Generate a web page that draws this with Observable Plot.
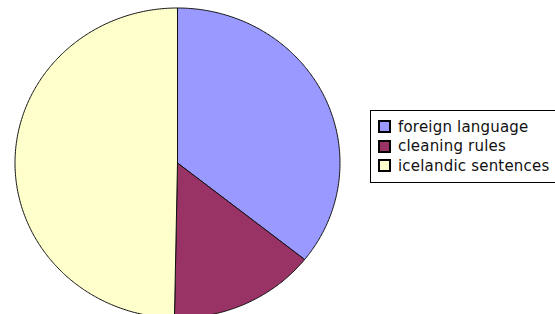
<!DOCTYPE html>
<html><head><meta charset="utf-8">
<script src="https://cdn.jsdelivr.net/npm/d3@7"></script>
<script src="https://cdn.jsdelivr.net/npm/@observablehq/plot@0.6"></script>
<style>
html,body{margin:0;padding:0;background:#fff;overflow:hidden;width:555px;height:314px;}
#wrap{position:relative;width:555px;height:314px;}
#legend{position:absolute;left:370px;top:110px;width:200px;height:73px;border:1px solid #000;background:#fff;
 font-family:"DejaVu Sans",sans-serif;font-size:15px;letter-spacing:0.2px;color:#111;box-sizing:border-box;padding-top:6px;}
.row{display:flex;align-items:center;height:19.5px;padding-left:7px;}
.sw{width:9px;height:9px;border:2px solid #000;margin-right:7px;flex:none;}
</style></head>
<body><div id="wrap"></div>
<script>
const categories = ["foreign language", "cleaning rules", "icelandic sentences"];
const values = [35.7, 14.6, 49.7];
const colors = ["#9999ff", "#993366", "#ffffcc"];

const data = categories.map((c, i) => ({name: c, value: values[i]}));
const arcs = d3.pie().sort(null).value(d => d.value)(data);
const pts = [];
for (const a of arcs) {
  const n = Math.max(4, Math.ceil((a.endAngle - a.startAngle) / 0.01));
  pts.push({name: a.data.name, x: 0, y: 0});
  for (let k = 0; k <= n; k++) {
    const t = a.startAngle + (a.endAngle - a.startAngle) * k / n;
    pts.push({name: a.data.name, x: Math.sin(t), y: Math.cos(t)});
  }
  pts.push({name: a.data.name, x: 0, y: 0});
}

const plot = Plot.plot({
  width: 555, height: 314,
  margin: 0,
  x: {domain: [-1, 1], range: [14.5, 339.5], axis: null},
  y: {domain: [-1, 1], range: [317.5, 7.5], axis: null},
  color: {domain: categories, range: colors},
  style: {background: "white"},
  marks: [
    Plot.line(pts, {x: "x", y: "y", z: "name", fill: "name", stroke: "#111", strokeWidth: 1, curve: "linear"})
  ]
});
const wrap = document.getElementById("wrap");
wrap.appendChild(plot);

const color = plot.scale("color");
const lg = document.createElement("div");
lg.id = "legend";
categories.forEach((c, i) => {
  const r = document.createElement("div");
  r.className = "row";
  const s = document.createElement("div");
  s.className = "sw";
  s.style.background = color.apply(c);
  const t = document.createElement("span");
  t.textContent = c;
  r.appendChild(s); r.appendChild(t);
  lg.appendChild(r);
});
wrap.appendChild(lg);
</script></body></html>
